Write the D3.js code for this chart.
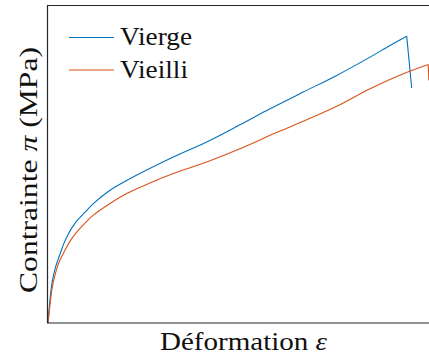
<!DOCTYPE html>
<html><head><meta charset="utf-8">
<script src="https://cdn.jsdelivr.net/npm/d3@7"></script>
<style>body{margin:0;background:#fff}svg{display:block}
text{font-family:"Liberation Serif","Times New Roman",serif}</style>
</head><body>
<svg id="c" width="429" height="358"></svg>
<script>
const seriesNames = ["Vierge", "Vieilli"];
const seriesColors = ["#0072BD", "#D95319"];
const viergeX = [0, 0.153, 0.306, 0.459, 0.714, 0.969, 1.224, 1.633, 2.041, 2.449, 2.959, 3.776, 4.622, 6.327, 8.061, 12.786, 16.194, 19.592, 22.653, 26.051, 29.459, 32.857, 34.898, 36.602, 37.112];
const viergeY = [0, 1.811, 3.321, 4.327, 5.434, 6.239, 6.943, 8.050, 8.906, 9.610, 10.314, 11.170, 12.025, 13.384, 14.390, 16.735, 18.244, 19.975, 21.585, 23.275, 24.956, 26.797, 27.975, 28.910, 23.678];
const vieilliX = [0, 0.204, 0.439, 0.714, 0.949, 1.224, 1.633, 2.316, 2.929, 3.776, 4.622, 6.327, 8.031, 10.102, 12.786, 16.194, 19.592, 23.500, 26.051, 29.459, 32.857, 36.255, 38.806, 38.857];
const vieilliY = [0, 1.811, 3.623, 4.830, 5.635, 6.340, 7.145, 8.352, 9.157, 10.063, 10.868, 12.045, 13.052, 13.987, 15.064, 16.231, 17.560, 19.270, 20.327, 21.836, 23.618, 25.127, 26.063, 24.453];
const xLabel = "Déformation ";
const xSym = "ε";
const yLabel = "Contrainte ";
const ySym = "π";
const yUnit = " (MPa)";

const svg = d3.select("#c");
const L = 47.5, R = 440, T = 5.5, B = 323;
const x = d3.scaleLinear().domain([0, 40]).range([48, R]);
const y = d3.scaleLinear().domain([0, 32]).range([B, T]);

const series = [
  {name: seriesNames[0], color: seriesColors[0], pts: viergeX.map((v,i)=>[v, viergeY[i]]), len: 72},
  {name: seriesNames[1], color: seriesColors[1], pts: vieilliX.map((v,i)=>[v, vieilliY[i]]), len: 68}
];

const line = d3.line().x(d=>x(d[0])).y(d=>y(d[1])).curve(d3.curveCatmullRom.alpha(0.5));
const lineLin = d3.line().x(d=>x(d[0])).y(d=>y(d[1]));
series.forEach(s=>{
  const main = s.pts.slice(0, -1);
  svg.append("path").attr("d", line(main)).attr("fill","none").attr("stroke",s.color).attr("stroke-width",1.1);
  svg.append("path").attr("d", lineLin(s.pts.slice(-2))).attr("fill","none").attr("stroke",s.color).attr("stroke-width",1.1);
});

const ax = svg.append("g").attr("stroke","#262626").attr("stroke-width",1.2).attr("fill","none");
ax.append("path").attr("d", `M${R},${T}H${L}V${B}H${R}`);

const leg = svg.append("g");
series.forEach((s,i)=>{
  const yy = 37.5 + i*32.5;
  leg.append("line").attr("x1",69).attr("x2",114).attr("y1",yy).attr("y2",yy).attr("stroke",s.color).attr("stroke-width",1.1);
  leg.append("text").attr("x",120).attr("y",yy+7.5).attr("font-size",26).attr("fill","#111")
    .attr("textLength", s.len).attr("lengthAdjust","spacingAndGlyphs").text(s.name);
});

const xl = svg.append("text").attr("x",160).attr("y",350)
  .attr("font-size",25).attr("fill","#111").attr("textLength",167).attr("lengthAdjust","spacingAndGlyphs");
xl.append("tspan").text(xLabel);
xl.append("tspan").attr("font-style","italic").text(xSym);

const yl = svg.append("text").attr("transform","translate(37,293) rotate(-90)")
  .attr("font-size",26).attr("fill","#111").attr("textLength",246).attr("lengthAdjust","spacingAndGlyphs");
yl.append("tspan").text(yLabel);
yl.append("tspan").attr("font-style","italic").text(ySym);
yl.append("tspan").text(yUnit);
</script>
</body></html>
